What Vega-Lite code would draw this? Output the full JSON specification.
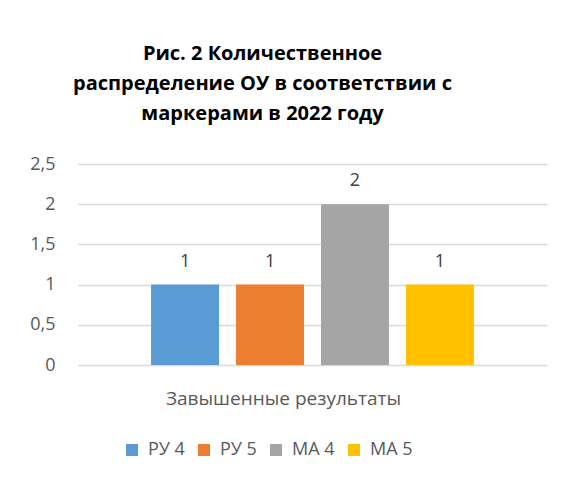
{
  "$schema": "https://vega.github.io/schema/vega-lite/v6.json",
  "width": 469,
  "height": 201,
  "autosize": {"type": "none"},
  "padding": {"left": 78, "top": 164, "right": 27, "bottom": 117},
  "background": "white",
  "title": {
    "text": ["Рис. 2 Количественное", "распределение ОУ в соответствии с", "маркерами в 2022 году"],
    "anchor": "middle",
    "frame": "group",
    "dx": -50,
    "offset": 31,
    "font": "Open Sans",
    "fontSize": 20,
    "fontWeight": "bold",
    "color": "#000000",
    "lineHeight": 30
  },
  "data": {
    "values": [
      {"category": "Завышенные результаты", "series": "РУ 4", "value": 1},
      {"category": "Завышенные результаты", "series": "РУ 5", "value": 1},
      {"category": "Завышенные результаты", "series": "МА 4", "value": 2},
      {"category": "Завышенные результаты", "series": "МА 5", "value": 1}
    ]
  },
  "encoding": {
    "x": {
      "field": "series",
      "type": "nominal",
      "sort": ["РУ 4", "РУ 5", "МА 4", "МА 5"],
      "scale": {"paddingInner": 0.2, "paddingOuter": 0.86},
      "axis": {
        "title": "Завышенные результаты",
        "labels": false,
        "ticks": false,
        "domain": false,
        "titleFont": "Open Sans",
        "titleFontSize": 19,
        "titleFontWeight": "normal",
        "titleColor": "#595959",
        "titleX": 205,
        "titleY": 39,
        "titleBaseline": "alphabetic",
        "titleAnchor": "middle",
        "titleAlign": "center"
      }
    },
    "y": {
      "field": "value",
      "type": "quantitative",
      "scale": {"domain": [0, 2.5], "nice": false},
      "axis": {
        "title": null,
        "values": [0, 0.5, 1, 1.5, 2, 2.5],
        "format": ".1~f",
        "domain": false,
        "ticks": false,
        "labelPadding": 23,
        "labelFont": "Open Sans",
        "labelFontSize": 18,
        "labelColor": "#595959",
        "gridColor": "#D9D9D9",
        "gridWidth": 1.3
      }
    }
  },
  "layer": [
    {
      "mark": {"type": "bar"},
      "encoding": {
        "color": {
          "field": "series",
          "type": "nominal",
          "sort": ["РУ 4", "РУ 5", "МА 4", "МА 5"],
          "scale": {
            "domain": ["РУ 4", "РУ 5", "МА 4", "МА 5"],
            "range": ["#5B9BD5", "#ED7D31", "#A5A5A5", "#FFC000"]
          },
          "legend": {
            "title": null,
            "orient": "none",
            "legendX": 45,
            "legendY": 277,
            "direction": "horizontal",
            "symbolType": "square",
            "symbolSize": 144,
            "symbolStrokeWidth": 0,
            "symbolOpacity": 1,
            "labelFont": "Open Sans",
            "labelFontSize": 18,
            "labelColor": "#595959",
            "labelOffset": 7,
            "columnPadding": 10,
            "padding": 0
          }
        }
      }
    },
    {
      "mark": {
        "type": "text",
        "baseline": "alphabetic",
        "dy": -18,
        "font": "Open Sans",
        "fontSize": 18,
        "color": "#404040"
      },
      "encoding": {
        "text": {"field": "value", "type": "quantitative"}
      }
    }
  ],
  "config": {
    "view": {"stroke": null},
    "locale": {
      "number": {"decimal": ",", "thousands": " ", "grouping": [3], "currency": ["", ""]}
    }
  }
}
